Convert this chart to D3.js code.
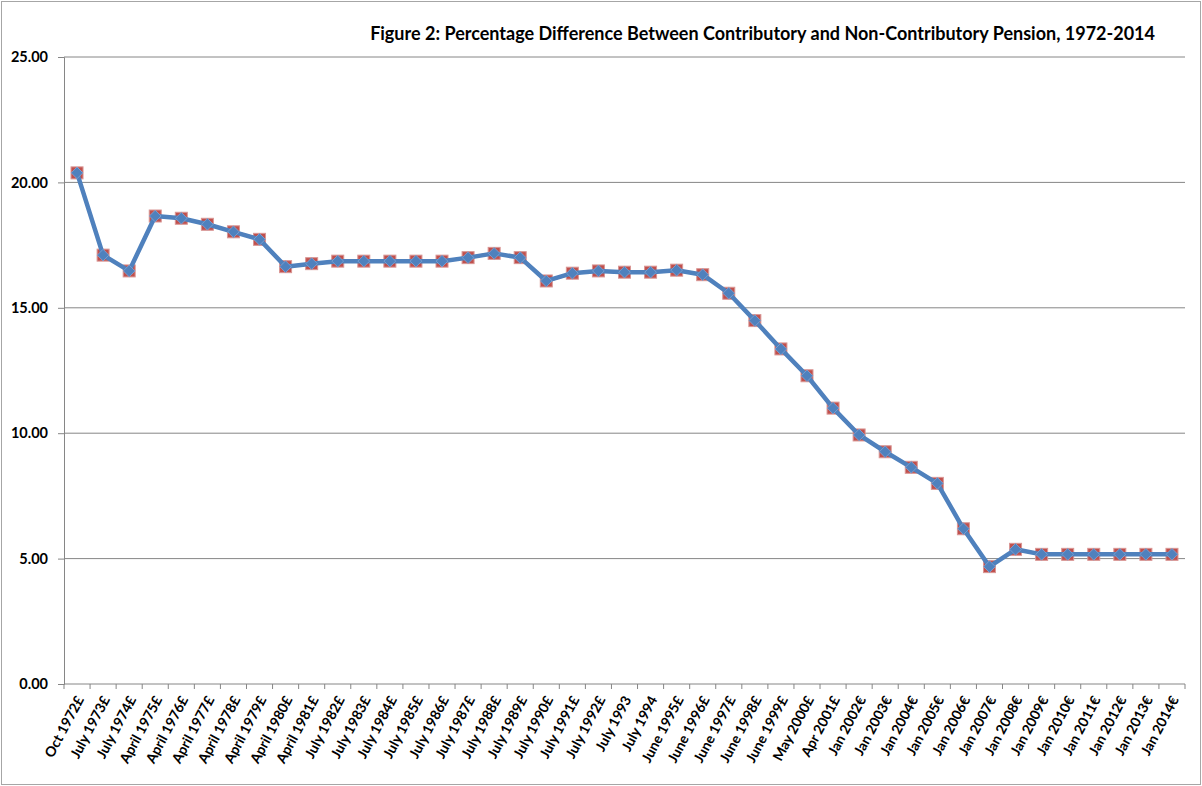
<!DOCTYPE html>
<html lang="en">
<head>
    <meta charset="UTF-8">
    <title>Figure 2</title>
    <script src="https://d3js.org/d3.v7.min.js"></script>
    <style>
        body { margin: 0; background: #fff; }
        text { font-family: Lato, "Open Sans", sans-serif; font-weight: bold; }
    </style>
</head>
<body>
<script>

    // categories along the x axis
    var periods = [
        'Oct 1972£', 'July 1973£', 'July 1974£', 'April 1975£', 'April 1976£',
        'April 1977£', 'April 1978£', 'April 1979£', 'April 1980£', 'April 1981£',
        'July 1982£', 'July 1983£', 'July 1984£', 'July 1985£', 'July 1986£',
        'July 1987£', 'July 1988£', 'July 1989£', 'July 1990£', 'July 1991£',
        'July 1992£', 'July 1993', 'July 1994', 'June 1995£', 'June 1996£',
        'June 1997£', 'June 1998£', 'June 1999£', 'May 2000£', 'Apr 2001£',
        'Jan 2002€', 'Jan 2003€', 'Jan 2004€', 'Jan 2005€', 'Jan 2006€',
        'Jan 2007€', 'Jan 2008€', 'Jan 2009€', 'Jan 2010€', 'Jan 2011€',
        'Jan 2012€', 'Jan 2013€', 'Jan 2014€'
    ];

    // percentage difference
    var pctDiff = [
        20.38, 17.10, 16.47, 18.66, 18.57,
        18.33, 18.03, 17.73, 16.64, 16.76,
        16.86, 16.86, 16.86, 16.86, 16.86,
        17.00, 17.17, 17.00, 16.07, 16.38,
        16.47, 16.42, 16.42, 16.50, 16.32,
        15.58, 14.49, 13.36, 12.29, 11.00,
        9.93, 9.26, 8.64, 8.00, 6.19,
        4.68, 5.37, 5.17, 5.17, 5.17,
        5.17, 5.17, 5.17
    ];

    var yTicks = [0, 5, 10, 15, 20, 25];

    var title = 'Figure 2: Percentage Difference Between Contributory and Non-Contributory Pension, 1972-2014';

    var W = 1202, H = 786;
    var mLeft = 64, mRight = 1185, mTop = 57, mBottom = 684;

    var svg = d3.select('body')
        .append('svg')
        .attr('width', W)
        .attr('height', H);

    // chart border
    svg.append('rect')
        .attr('x', 1.5).attr('y', 1.5)
        .attr('width', W - 3).attr('height', H - 3)
        .attr('fill', '#fff')
        .attr('stroke', '#a6a6a6');

    var x = d3.scaleBand()
        .domain(periods)
        .range([mLeft, mRight]);

    var y = d3.scaleLinear()
        .domain([0, 25])
        .range([mBottom, mTop]);

    // gridlines
    svg.append('g')
        .selectAll('line')
        .data(yTicks.slice(1))
        .enter()
        .append('line')
        .attr('x1', mLeft).attr('x2', mRight)
        .attr('y1', function (d) { return y(d); })
        .attr('y2', function (d) { return y(d); })
        .attr('stroke', '#868686')
        .attr('stroke-width', 1);

    // y axis
    var yAxis = svg.append('g')
        .attr('transform', 'translate(' + mLeft + ',0)')
        .call(d3.axisLeft(y).tickValues(yTicks).tickFormat(d3.format('.2f')).tickSize(6).tickPadding(10));
    yAxis.select('.domain').attr('stroke', '#868686');
    yAxis.selectAll('.tick line').attr('stroke', '#868686');
    yAxis.selectAll('text')
        .attr('font-size', '14.5px')
        .attr('font-family', 'Lato, sans-serif')
        .attr('font-weight', 'bold')
        .attr('fill', '#000');

    // x axis
    var xAxis = svg.append('g')
        .attr('transform', 'translate(0,' + mBottom + ')')
        .call(d3.axisBottom(x).tickSize(0).tickPadding(0));
    xAxis.select('.domain').remove();
    xAxis.selectAll('text')
        .attr('font-size', '14px')
        .attr('font-family', 'Lato, sans-serif')
        .attr('font-weight', 'bold')
        .attr('fill', '#000')
        .attr('text-anchor', 'end')
        .attr('y', 0)
        .attr('dy', '0.35em')
        .attr('transform', 'translate(3,13) rotate(-62)');

    svg.append('line')
        .attr('x1', mLeft).attr('x2', mRight)
        .attr('y1', mBottom).attr('y2', mBottom)
        .attr('stroke', '#868686');

    // tick marks between categories
    svg.append('g')
        .selectAll('line')
        .data(periods.concat(['end']))
        .enter()
        .append('line')
        .attr('x1', function (d) { return d === 'end' ? mRight : x(d); })
        .attr('x2', function (d) { return d === 'end' ? mRight : x(d); })
        .attr('y1', mBottom)
        .attr('y2', mBottom + 5)
        .attr('stroke', '#868686');

    var cx = function (d, i) { return x(periods[i]) + x.bandwidth() / 2; };

    var line = d3.line()
        .x(cx)
        .y(function (d) { return y(d); });

    // series 1: red squares
    svg.append('path')
        .datum(pctDiff)
        .attr('d', line)
        .attr('fill', 'none')
        .attr('stroke', '#c0504d')
        .attr('stroke-width', 3);

    svg.append('g')
        .selectAll('rect')
        .data(pctDiff)
        .enter()
        .append('rect')
        .attr('x', function (d, i) { return cx(d, i) - 6; })
        .attr('y', function (d) { return y(d) - 6; })
        .attr('width', 12)
        .attr('height', 12)
        .attr('fill', '#c0504d')
        .attr('stroke', '#d99694')
        .attr('stroke-width', 1);

    // series 2: blue line with diamonds
    svg.append('path')
        .datum(pctDiff)
        .attr('d', line)
        .attr('fill', 'none')
        .attr('stroke', '#4f81bd')
        .attr('stroke-width', 4.5)
        .attr('stroke-linejoin', 'round');

    var diamond = d3.symbol().type(d3.symbolSquare).size(68);

    svg.append('g')
        .selectAll('path')
        .data(pctDiff)
        .enter()
        .append('path')
        .attr('d', diamond)
        .attr('transform', function (d, i) { return 'translate(' + cx(d, i) + ',' + y(d) + ') rotate(45)'; })
        .attr('fill', '#4f81bd')
        .attr('stroke', '#7ea3d3')
        .attr('stroke-width', 0.8);

    // title
    svg.append('text')
        .attr('x', 1155)
        .attr('y', 40)
        .attr('text-anchor', 'end')
        .attr('font-size', '18px')
        .attr('fill', '#000')
        .text(title);

</script>
</body>
</html>
